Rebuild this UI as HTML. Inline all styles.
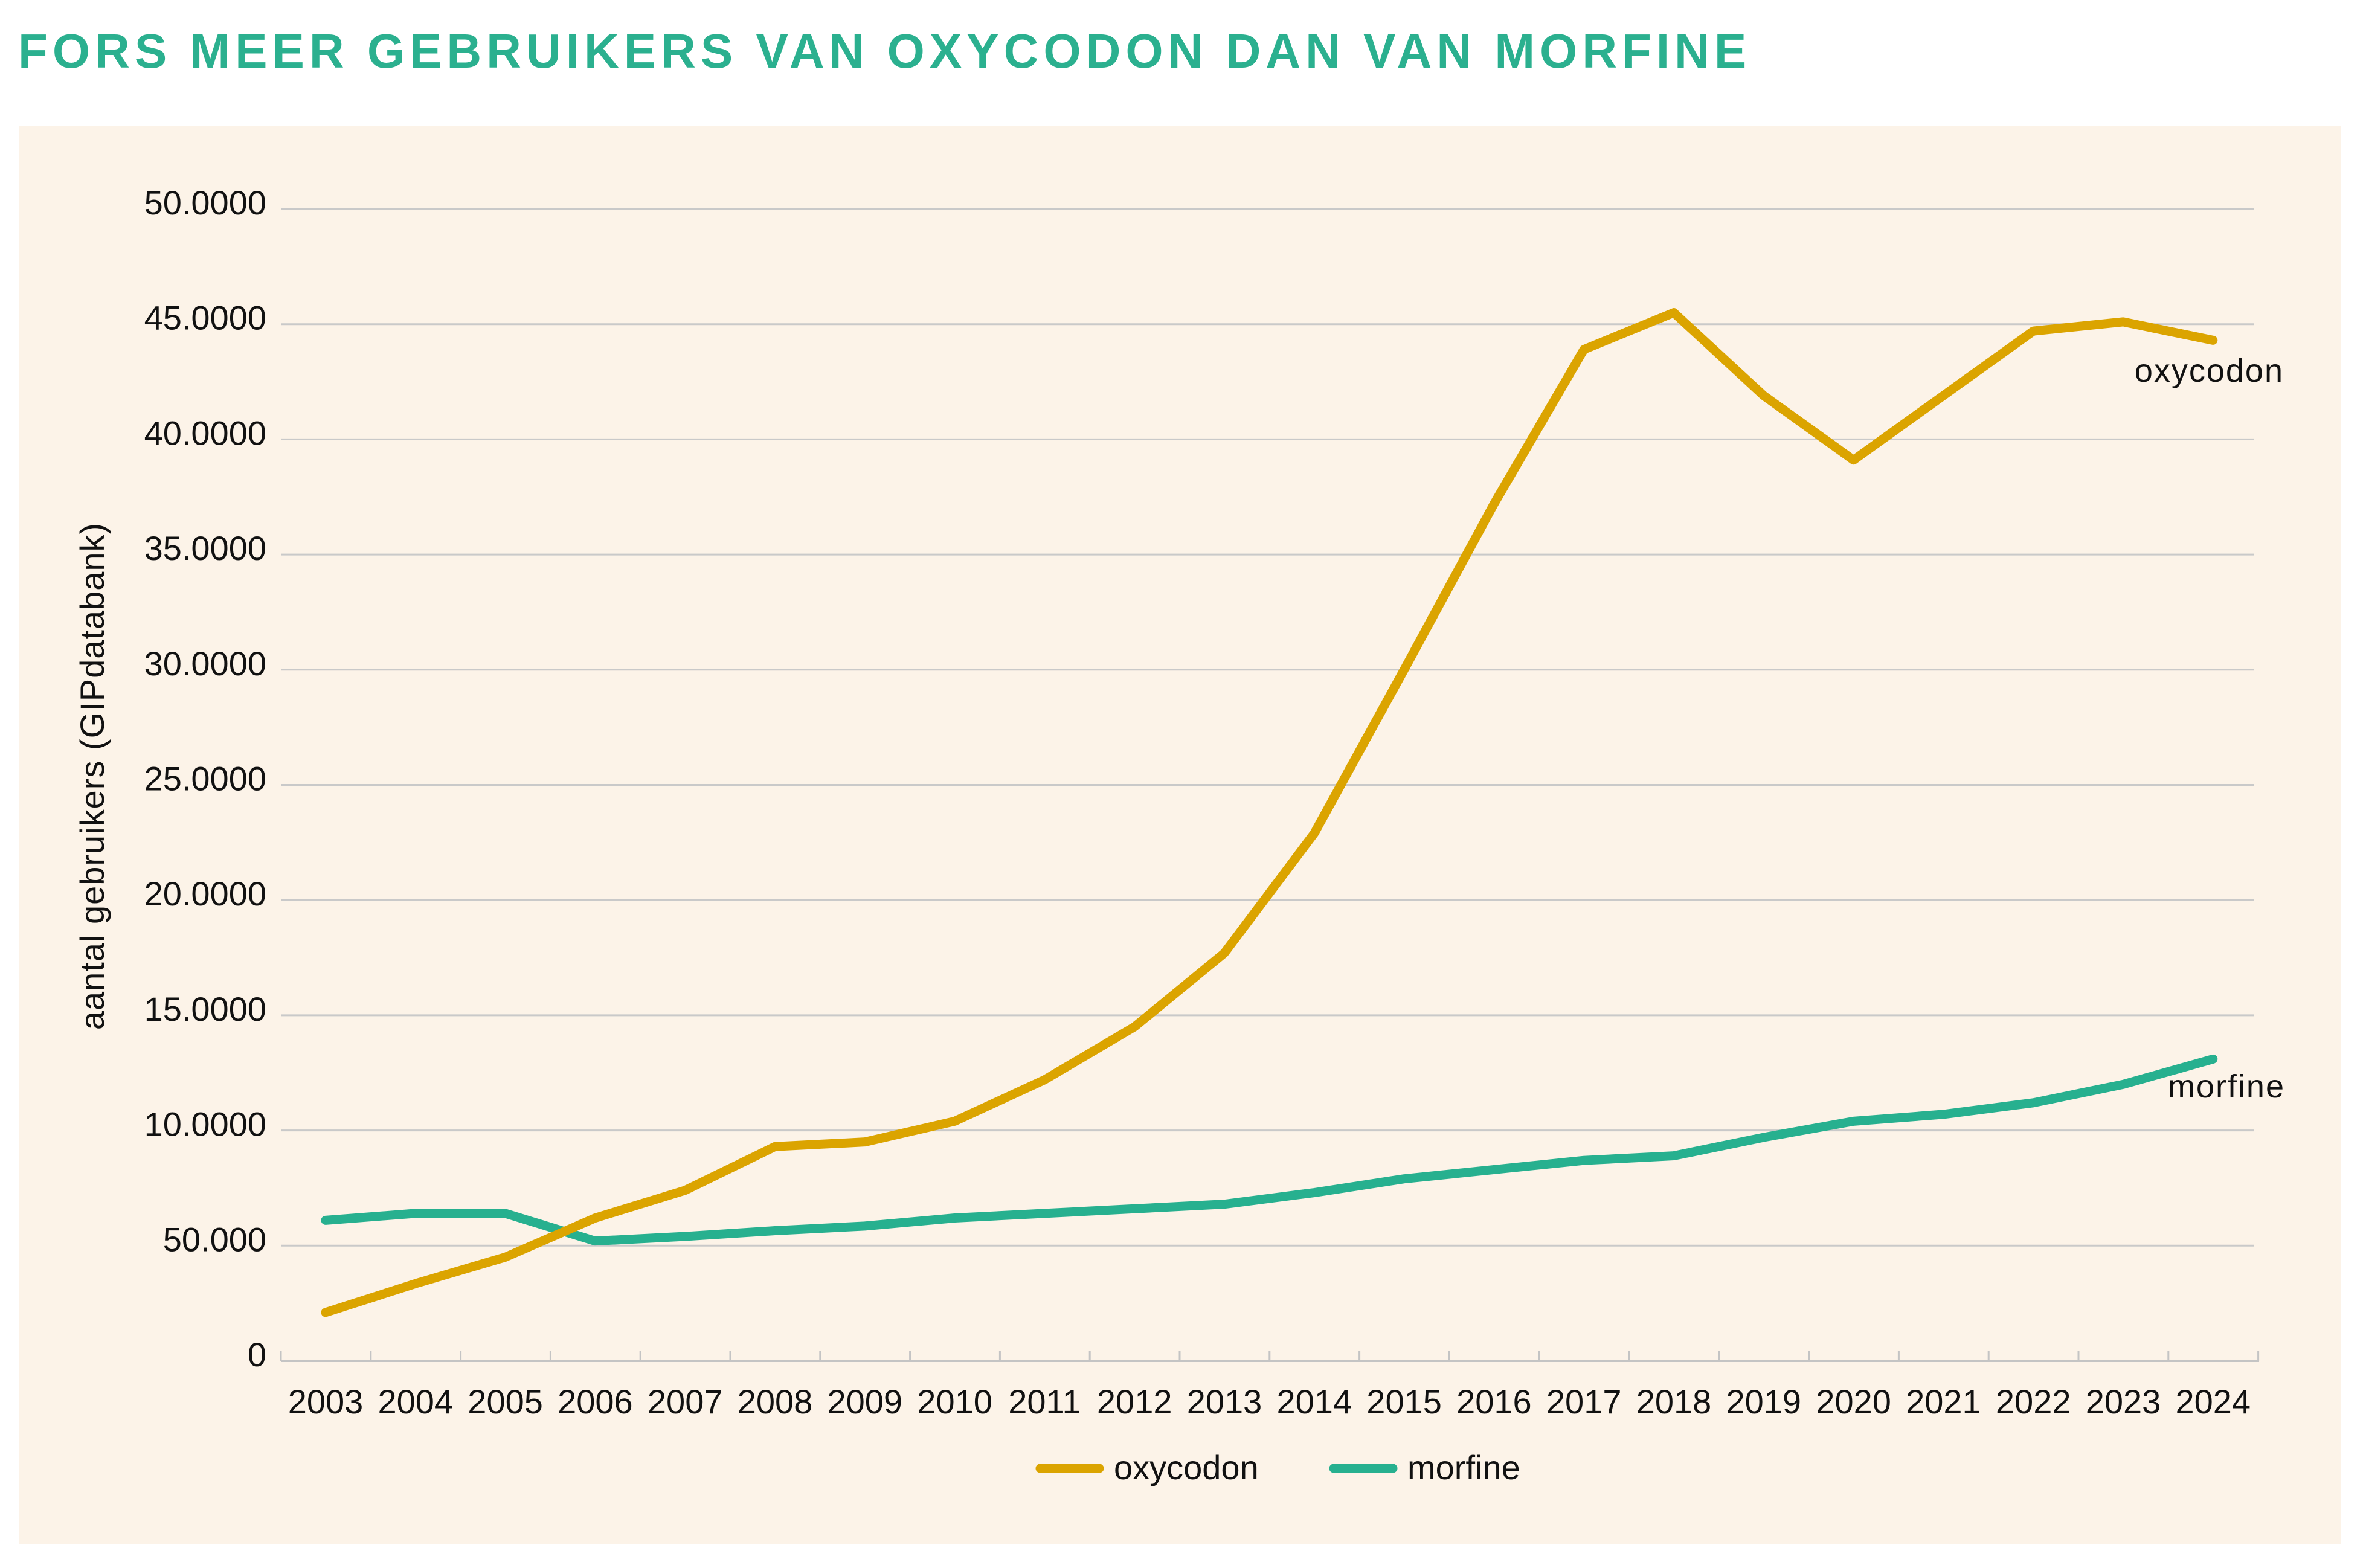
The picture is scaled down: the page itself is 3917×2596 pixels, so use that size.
<!DOCTYPE html>
<html><head><meta charset="utf-8">
<style>
html,body{margin:0;padding:0;background:#fff;}
svg{display:block;}
text{font-family:"Liberation Sans Narrow","Liberation Sans",sans-serif;fill:#111;}
</style></head>
<body>
<svg id="chart" width="3917" height="2596" viewBox="0 0 3917 2596" xmlns="http://www.w3.org/2000/svg">
<text x="30" y="112" style="font-family:'Liberation Sans',sans-serif;font-weight:bold;font-size:80px;fill:#2bb08f;letter-spacing:8px">FORS MEER GEBRUIKERS VAN OXYCODON DAN VAN MORFINE</text>
<rect x="32" y="208" width="3844" height="2348" fill="#fcf3e8"/>
<g id="grid"></g>
<g id="yticks"></g>
<g id="xaxis"></g>
<g id="series"></g>
<text transform="translate(172,1285) rotate(-90)" text-anchor="middle" style="font-family:'Liberation Sans',sans-serif;font-size:56px;letter-spacing:1px">aantal gebruikers (GIPdatabank)</text>
<text x="3781" y="632" text-anchor="end" style="font-family:'Liberation Sans',sans-serif;font-size:54px;letter-spacing:2px">oxycodon</text>
<text x="3783" y="1817" text-anchor="end" style="font-family:'Liberation Sans',sans-serif;font-size:54px;letter-spacing:2px">morfine</text>
<g>
<line x1="1722" y1="2431" x2="1820" y2="2431" stroke="#dba400" stroke-width="15" stroke-linecap="round"/>
<text x="1844" y="2449" style="font-size:56px">oxycodon</text>
<line x1="2208" y1="2431" x2="2306" y2="2431" stroke="#27b08f" stroke-width="15" stroke-linecap="round"/>
<text x="2330" y="2449" style="font-size:56px">morfine</text>
</g>
</svg>
<script>
const years = [2003,2004,2005,2006,2007,2008,2009,2010,2011,2012,2013,2014,2015,2016,2017,2018,2019,2020,2021,2022,2023,2024];
const oxycodon = [21000,33500,45000,62000,74000,93000,95000,104000,122000,145000,177000,229000,300000,372000,439000,455000,419000,391000,419000,447000,451000,443000];
const morfine = [61000,64000,64000,52000,54000,56500,58500,62000,64000,66000,68000,73000,79000,83000,87000,89000,97000,104000,107000,112000,120000,131000];
const yTickValues = [0,50000,100000,150000,200000,250000,300000,350000,400000,450000,500000];
const yTickLabels = ["0","50.000","10.0000","15.0000","20.0000","25.0000","30.0000","35.0000","40.0000","45.0000","50.0000"];

const NS="http://www.w3.org/2000/svg";
const x0=539, dx=148.8, yBase=2253, yTop=346, yMax=500000;
const xs=i=>x0+i*dx;
const ys=v=>yBase-(v/yMax)*(yBase-yTop);
function mk(tag,attrs,parent){const e=document.createElementNS(NS,tag);for(const k in attrs)e.setAttribute(k,attrs[k]);parent.appendChild(e);return e;}
const grid=document.getElementById('grid'),yt=document.getElementById('yticks'),xa=document.getElementById('xaxis'),se=document.getElementById('series');
yTickValues.forEach((v,i)=>{
  if(v>0){const l=mk('line',{x1:465,x2:3731,y1:ys(v),y2:ys(v),stroke:'#c9c9c9','stroke-width':3},grid);
  
  }
  const t=mk('text',{x:441,y:ys(v)+9,'text-anchor':'end','font-size':56},yt);
  t.textContent=yTickLabels[i];
  
  
});
const ax=mk('line',{x1:465,x2:3740,y1:yBase,y2:yBase,stroke:'#c4c4c4','stroke-width':4},xa);


for(let i=0;i<=years.length;i++){
  const tx=465+i*dx;
  const tk=mk('line',{x1:tx,x2:tx,y1:yBase-16,y2:yBase,stroke:'#c4c4c4','stroke-width':3},xa);
  
  
}
years.forEach((y,i)=>{
  const t=mk('text',{x:xs(i),y:2340,'text-anchor':'middle','font-size':56},xa);
  t.textContent=y;
  
  
});
function line(arr,color,name){
  const p=mk('polyline',{points:arr.map((v,i)=>xs(i)+','+ys(v)).join(' '),fill:'none',stroke:color,'stroke-width':15,'stroke-linecap':'round','stroke-linejoin':'round'},se);
  
  
}
line(morfine,'#27b08f','morfine-line');
line(oxycodon,'#dba400','oxycodon-line');
</script>
</body></html>
